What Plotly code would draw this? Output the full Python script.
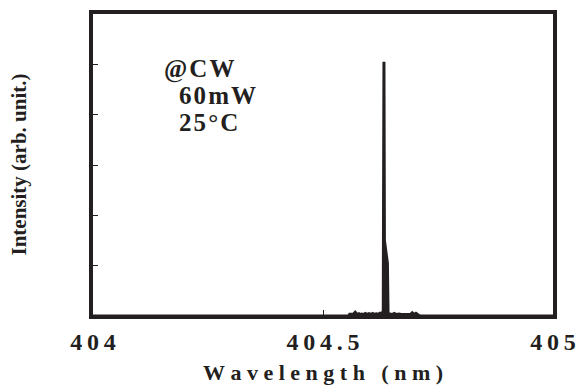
import plotly.graph_objects as go

# Emission spectrum of the laser diode (CW, 60 mW, 25 °C)
wavelength_nm = [
    404.000, 404.500, 404.556, 404.558, 404.566, 404.570, 404.574, 404.578,
    404.580, 404.584, 404.588, 404.592, 404.596, 404.600, 404.604, 404.608,
    404.612, 404.616, 404.620, 404.624, 404.628, 404.631, 404.6325, 404.6335,
    404.6345, 404.636, 404.638, 404.640, 404.6415, 404.645, 404.650, 404.655,
    404.660, 404.665, 404.670, 404.690, 404.694, 404.698, 404.702, 404.706,
    404.710, 405.000,
]
intensity = [
    0.000, 0.000, 0.000, 0.007, 0.007, 0.015, 0.006, 0.009,
    0.005, 0.008, 0.006, 0.010, 0.006, 0.009, 0.006, 0.010,
    0.006, 0.009, 0.007, 0.011, 0.008, 0.020, 1.010, 0.300,
    0.285, 0.260, 0.230, 0.210, 0.000, 0.008, 0.006, 0.010,
    0.006, 0.008, 0.006, 0.006, 0.013, 0.006, 0.011, 0.006,
    0.000, 0.000,
]

x_ticks = [404, 404.5, 405]
x_tick_labels = ["404", "404.5", "405"]
y_ticks = [0.2, 0.4, 0.6, 0.8, 1.0]

notes = ["@CW", "60mW", "25°C"]

INK = "#231f20"
SERIF = "Liberation Serif, Times New Roman, serif"


def spaced(text, gap="\u2009"):
    """Open up the letter spacing of a label."""
    return gap.join(text)


fig = go.Figure()
fig.add_trace(go.Scatter(
    x=wavelength_nm,
    y=intensity,
    mode="lines",
    line=dict(color=INK, width=3),
    fill="tozeroy",
    fillcolor=INK,
    hoverinfo="x+y",
    showlegend=False,
))

fig.update_layout(
    width=580,
    height=385,
    margin=dict(l=93, r=27, t=14, b=70),
    paper_bgcolor="white",
    plot_bgcolor="white",
    font=dict(family=SERIF, color=INK),
    xaxis=dict(
        range=[404, 405],
        tickvals=x_ticks,
        ticktext=[spaced(t) for t in x_tick_labels],
        tickfont=dict(size=24, family=SERIF, weight="bold", color=INK),
        ticks="inside",
        ticklen=5,
        tickwidth=1,
        tickcolor=INK,
        ticklabelstandoff=2,
        showline=True,
        linewidth=4,
        linecolor=INK,
        mirror=True,
        showgrid=False,
        zeroline=False,
        automargin=False,
        title=dict(
            text=spaced("Wavelength (nm)", "\u2005"),
            font=dict(size=22, family=SERIF, weight="bold", color=INK),
            standoff=12,
        ),
    ),
    yaxis=dict(
        range=[0.004, 1.2],
        tickvals=y_ticks,
        showticklabels=False,
        ticks="inside",
        ticklen=5,
        tickwidth=1,
        tickcolor=INK,
        showline=True,
        linewidth=4,
        linecolor=INK,
        mirror=True,
        showgrid=False,
        zeroline=False,
        automargin=False,
        title=dict(
            text="Intensity (arb. unit.)",
            font=dict(size=21, family=SERIF, weight="bold", color=INK),
            standoff=58,
        ),
    ),
)

# Operating-condition notes in the upper left of the plot
note_pos = [(0.151, 0.818), (0.183, 0.728), (0.183, 0.638)]
for text, (px, py) in zip(notes, note_pos):
    fig.add_annotation(
        x=px, y=py, xref="paper", yref="paper",
        text=spaced(text, "\u200a"),
        showarrow=False,
        xanchor="left", yanchor="middle",
        font=dict(size=25, family=SERIF, weight="bold", color=INK),
    )

fig.write_html("out.html")
